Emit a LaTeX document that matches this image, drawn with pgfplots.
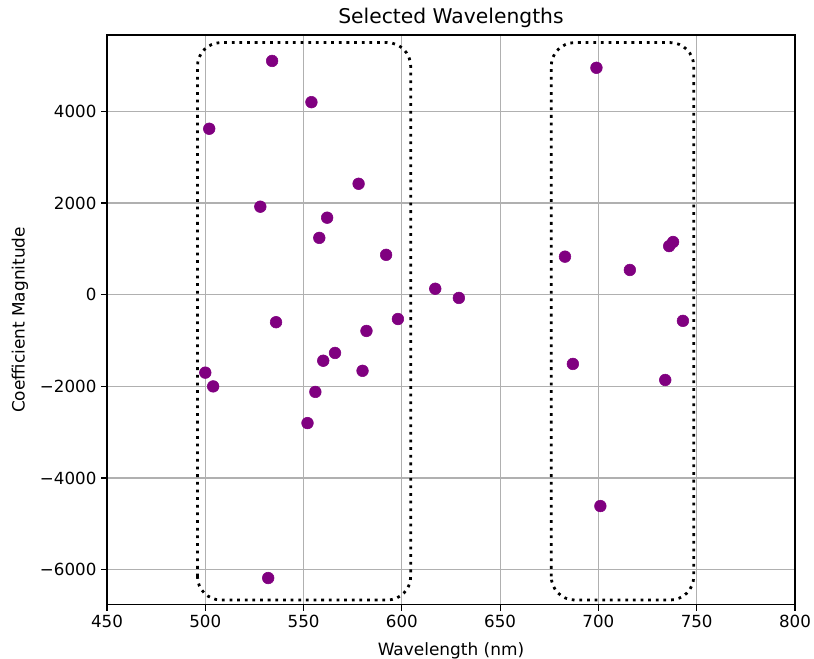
\documentclass[border=0pt]{standalone}
\usepackage{fontspec}
\setmainfont{DejaVu Sans}
\usepackage{pgfplots}
\pgfplotsset{compat=1.18}
\definecolor{mplpurple}{RGB}{128,0,128}
\definecolor{gridgray}{RGB}{176,176,176}

\begin{document}
\begin{tikzpicture}
\begin{axis}[
    scale only axis,
    width=495pt,
    height=410pt,
    xmin=450, xmax=800,
    ymin=-6765, ymax=5665,
    xtick={450,500,...,800},
    ytick={-6000,-4000,-2000,0,2000,4000},
    yticklabels={−6000,−4000,−2000,0,2000,4000},
    /pgf/number format/assume math mode=true,
    /pgf/number format/1000 sep={},
    scaled y ticks=false,
    grid=major,
    major grid style={gridgray, line width=0.9pt},
    axis line style={line width=0.9pt},
    tick style={black, line width=0.9pt},
    tick align=outside,
    major tick length=4.1pt,
    xtick pos=bottom, ytick pos=left,
    tick label style={font=\fontsize{12}{14}\selectfont},
    label style={font=\fontsize{12.2}{14}\selectfont},
    xlabel={Wavelength (nm)},
    ylabel={Coefficient Magnitude},
    xlabel style={at={(axis description cs:0.5,-0.081)}, anchor=center},
    ylabel style={at={(axis description cs:-0.1265,0.5)}, anchor=center},
]
\addplot[only marks, mark=*, mark size=4.2pt, color=mplpurple] coordinates {
    (502,3620) (534,5100) (554,4200) (528,1920) (578,2420) (562,1680)
    (558,1240) (592,870) (617,130) (629,-70) (536,-600) (598,-530)
    (582,-790) (566,-1270) (560,-1440) (580,-1660) (500,-1700) (504,-2000)
    (556,-2120) (552,-2800) (532,-6180)
    (699,4950) (683,830) (716,540) (736,1060) (738,1150) (743,-570)
    (687,-1510) (734,-1860) (701,-4610)
};
\draw[black, line width=2pt, dash pattern=on 2pt off 3.5pt, rounded corners=17pt]
    (axis cs:496,-6660) rectangle (axis cs:604.5,5500);
\draw[black, line width=2pt, dash pattern=on 2pt off 3.5pt, rounded corners=17pt]
    (axis cs:676,-6660) rectangle (axis cs:748.5,5500);
\end{axis}
\node[font=\fontsize{14.6}{17}\selectfont, anchor=center, yshift=12.4pt]
    at (current axis.north) {Selected Wavelengths};
\pgfresetboundingbox
\path (current axis.south west) +(-77pt,-38.9pt)
      (current axis.north east) +(13.7pt,25.2pt);
\end{tikzpicture}
\end{document}
